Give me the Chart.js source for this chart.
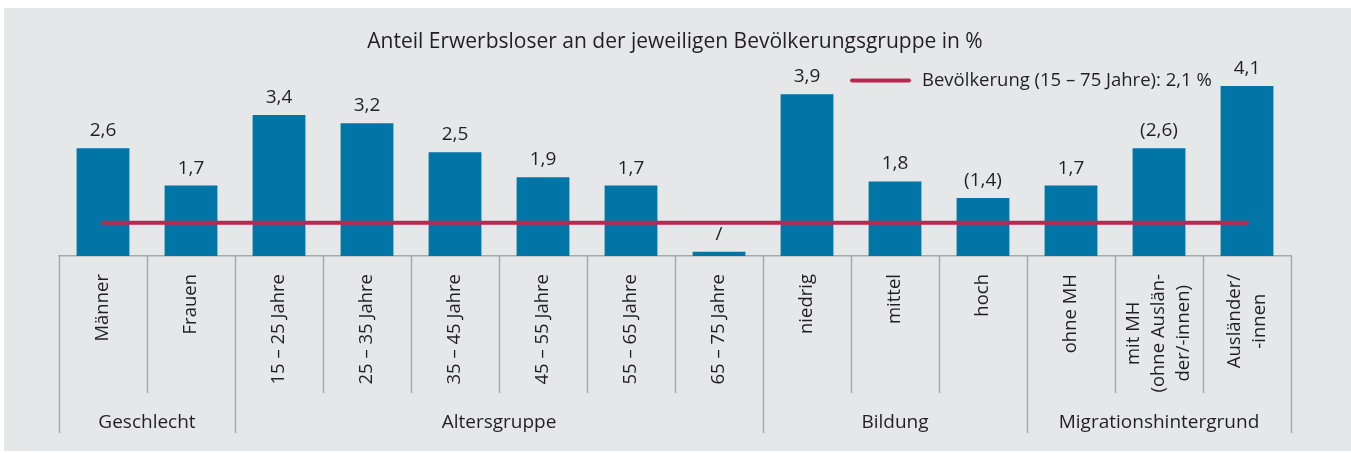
<!DOCTYPE html>
<html>
<head>
<meta charset="utf-8">
<script src="https://cdn.jsdelivr.net/npm/chart.js"></script>
<style>
  html, body { margin: 0; padding: 0; background: #fff; }
  #wrap { position: absolute; left: 4px; top: 8px; width: 1347px; height: 443px; background: #e6e7e9; }
</style>
</head>
<body>
<div id="wrap"><canvas id="barchart" width="1347" height="443"></canvas></div>
<script>
var categories = ['Männer', 'Frauen', '15 – 25 Jahre', '25 – 35 Jahre', '35 – 45 Jahre', '45 – 55 Jahre',
    '55 – 65 Jahre', '65 – 75 Jahre', 'niedrig', 'mittel', 'hoch', 'ohne MH',
    ['mit MH', '(ohne Auslän-', 'der/-innen)'], ['Ausländer/', '-innen']];
var values = [2.6, 1.7, 3.4, 3.2, 2.5, 1.9, 1.7, 0.1, 3.9, 1.8, 1.4, 1.7, 2.6, 4.1];
var valueLabels = ['2,6', '1,7', '3,4', '3,2', '2,5', '1,9', '1,7', '/', '3,9', '1,8', '(1,4)', '1,7', '(2,6)', '4,1'];
var groups = ['Geschlecht', 'Altersgruppe', 'Bildung', 'Migrationshintergrund'];
var groupSizes = [2, 6, 3, 3];
// reference line, at the height where the picture draws it
var refLine = [0.8, 0.8, 0.8, 0.8, 0.8, 0.8, 0.8, 0.8, 0.8, 0.8, 0.8, 0.8, 0.8, 0.8];
var refLabel = 'Bevölkerung (15 – 75 Jahre): 2,1 %';

var textColor = '#231f20';
var lineGray = '#a7a9ab';
var fontFamily = '"Open Sans", sans-serif';

// bar value labels, category labels, dividers, group names and legend
var extras = {
    id: 'extras',
    afterDraw: function(chart) {
        var ctx = chart.ctx;
        var x = chart.scales.x;
        var area = chart.chartArea;
        var step = x.getPixelForValue(1) - x.getPixelForValue(0);
        var start = x.getPixelForValue(0) - step / 2;

        // value labels
        var meta = chart.getDatasetMeta(0);
        ctx.save();
        ctx.fillStyle = textColor;
        ctx.font = '19px ' + fontFamily;
        ctx.textAlign = 'center';
        ctx.textBaseline = 'alphabetic';
        meta.data.forEach(function(bar, i) {
            ctx.fillText(valueLabels[i], bar.x, bar.y - 12);
        });

        // category labels, rotated
        ctx.font = '18.5px ' + fontFamily;
        ctx.textBaseline = 'middle';
        categories.forEach(function(label, i) {
            var lines = Array.isArray(label) ? label : [label];
            var cx = x.getPixelForValue(i);
            ctx.save();
            ctx.translate(cx, area.bottom + 18);
            ctx.rotate(-Math.PI / 2);
            if (lines.length === 1) {
                ctx.textAlign = 'right';
                ctx.fillText(lines[0], 0, 0);
            } else {
                var maxW = 0;
                lines.forEach(function(l) { maxW = Math.max(maxW, ctx.measureText(l).width); });
                ctx.textAlign = 'center';
                lines.forEach(function(l, j) {
                    ctx.fillText(l, -maxW / 2, (j - (lines.length - 1) / 2) * 25);
                });
            }
            ctx.restore();
        });

        // divider lines
        var bounds = [0];
        var k = 0;
        groupSizes.forEach(function(n) { k += n; bounds.push(k); });
        ctx.strokeStyle = lineGray;
        ctx.lineWidth = 1.5;
        for (var b = 0; b <= categories.length; b++) {
            var px = Math.round(start + b * step) + 0.5;
            var long = bounds.indexOf(b) >= 0;
            ctx.beginPath();
            ctx.moveTo(px, area.bottom);
            ctx.lineTo(px, long ? area.bottom + 177 : area.bottom + 137);
            ctx.stroke();
        }

        // group names
        ctx.font = '19px ' + fontFamily;
        ctx.textAlign = 'center';
        ctx.textBaseline = 'middle';
        for (var g = 0; g < groups.length; g++) {
            var gx = start + (bounds[g] + bounds[g + 1]) / 2 * step;
            ctx.fillText(groups[g], gx, area.bottom + 167);
        }

        // legend
        var ds = chart.data.datasets[1];
        ctx.strokeStyle = ds.borderColor;
        ctx.lineWidth = 4;
        ctx.lineCap = 'round';
        ctx.beginPath();
        ctx.moveTo(848, 72.5);
        ctx.lineTo(905, 72.5);
        ctx.stroke();
        ctx.font = '18.5px ' + fontFamily;
        ctx.textAlign = 'left';
        ctx.fillText(ds.label, 918, 72.5);
        ctx.restore();
    }
};

var ctx = document.getElementById('barchart').getContext('2d');
var myChart = new Chart(ctx, {
    type: 'bar',
    data: {
        labels: categories,
        datasets: [{
            label: 'Anteil Erwerbsloser',
            data: values,
            backgroundColor: '#0075a6',
            barPercentage: 0.6,
            categoryPercentage: 1,
            order: 1
        }, {
            type: 'line',
            label: refLabel,
            data: refLine,
            borderColor: '#bb2750',
            borderWidth: 4,
            borderCapStyle: 'round',
            pointRadius: 0,
            order: 0
        }]
    },
    options: {
        responsive: false,
        animation: false,
        layout: { padding: { left: 55, right: 60, top: 0, bottom: 0 } },
        plugins: {
            legend: { display: false },
            tooltip: { enabled: false },
            title: {
                display: true,
                text: 'Anteil Erwerbsloser an der jeweiligen Bevölkerungsgruppe in %',
                color: textColor,
                font: { family: fontFamily, size: 21, weight: 'normal', lineHeight: 1.2 },
                padding: { top: 21.4, bottom: 10.7 }
            }
        },
        scales: {
            y: { display: false, min: 0, max: 4.6 },
            x: {
                offset: true,
                grid: { display: false, drawTicks: false },
                border: { display: true, color: lineGray, width: 1.5 },
                ticks: { display: false },
                afterFit: function(scale) { scale.height = 195; }
            }
        }
    },
    plugins: [extras]
});
</script>
</body>
</html>
